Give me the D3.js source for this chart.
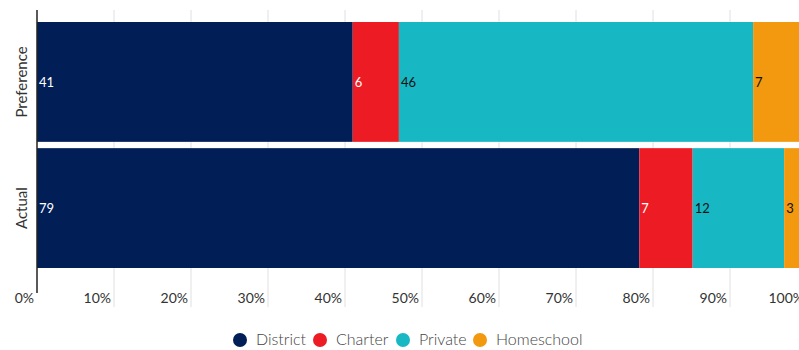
<!DOCTYPE html>
<html>
<head>
<meta charset="utf-8">
<script src="https://cdn.jsdelivr.net/npm/d3@7"></script>
<style>
  body { margin: 0; background: #fff; }
  text { font-family: Lato, "Open Sans", sans-serif; }
</style>
</head>
<body>
<div id="chart"></div>
<script>
// rows and series
var rows = ["Preference", "Actual"];
var seriesNames = ["District", "Charter", "Private", "Homeschool"];
var district = [41, 79];
var charter = [6, 7];
var privateSchool = [46, 12];
var homeschool = [7, 3];
var tickValues = [0, 0.1, 0.2, 0.3, 0.4, 0.5, 0.6, 0.7, 0.8, 0.9, 1];

var colors = ["#011e57", "#ed1c24", "#17b8c4", "#f2990f"];
var labelColors = ["#fff", "#fff", "#111", "#111"];

var width = 799, height = 350;
var margin = {top: 22, left: 37};

var table = rows.map(function(r, i) {
  return {row: r, District: district[i], Charter: charter[i], Private: privateSchool[i], Homeschool: homeschool[i]};
});

var stack = d3.stack().keys(seriesNames).offset(d3.stackOffsetExpand);
var layers = stack(table);

var x = d3.scaleLinear().domain([0, 1]).range([margin.left, 807]);
var y = d3.scaleBand().domain(rows).range([22, 268]).paddingInner(0.05);

var svg = d3.select("#chart").append("svg")
    .attr("width", width)
    .attr("height", height);

// grid lines
svg.append("g").selectAll("line")
    .data(tickValues.slice(1))
    .enter().append("line")
    .attr("x1", function(d){ return x(d); })
    .attr("x2", function(d){ return x(d); })
    .attr("y1", 10)
    .attr("y2", 307)
    .attr("stroke", "#e0e0e0")
    .attr("stroke-width", 1);

// tick labels, right aligned against their line
svg.append("g").selectAll("text")
    .data(tickValues)
    .enter().append("text")
    .attr("x", function(d){ return x(d) - 3; })
    .attr("y", 303)
    .attr("text-anchor", "end")
    .attr("font-size", 14)
    .attr("fill", "#333")
    .text(d3.format(".0%"));

// bars
var groups = svg.append("g").selectAll("g")
    .data(layers)
    .enter().append("g")
    .attr("fill", function(d, i){ return colors[i]; });

groups.selectAll("rect")
    .data(function(d){ return d; })
    .enter().append("rect")
    .attr("x", function(d){ return x(d[0]); })
    .attr("y", function(d){ return y(d.data.row); })
    .attr("width", function(d){ return x(d[1]) - x(d[0]); })
    .attr("height", y.bandwidth());

// value labels
layers.forEach(function(layer, i) {
  svg.append("g").selectAll("text")
      .data(layer)
      .enter().append("text")
      .attr("x", function(d){ return x(d[0]) + 2; })
      .attr("y", function(d){ return y(d.data.row) + y.bandwidth() / 2 + 5; })
      .attr("font-size", 13)
      .attr("fill", labelColors[i])
      .text(function(d){ return d.data[layer.key]; });
});

// axis line
svg.append("line")
    .attr("x1", margin.left).attr("x2", margin.left)
    .attr("y1", 10).attr("y2", 293)
    .attr("stroke", "#222")
    .attr("stroke-width", 1.5);

// row labels
svg.append("g").selectAll("text")
    .data(rows)
    .enter().append("text")
    .attr("transform", function(d){ return "translate(27," + (y(d) + y.bandwidth() / 2) + ") rotate(-90)"; })
    .attr("text-anchor", "middle")
    .attr("font-size", 15)
    .attr("fill", "#333")
    .text(function(d){ return d; });

// legend
var legendX = [240, 320, 403, 480];
var legend = svg.append("g").selectAll("g")
    .data(seriesNames)
    .enter().append("g")
    .attr("transform", function(d, i){ return "translate(" + legendX[i] + ",340)"; });

legend.append("circle")
    .attr("r", 7)
    .attr("fill", function(d, i){ return colors[i]; });

legend.append("text")
    .attr("x", 16)
    .attr("y", 5)
    .attr("font-size", 16)
    .attr("font-weight", 300)
    .attr("fill", "#444")
    .text(function(d){ return d; });
</script>
</body>
</html>
